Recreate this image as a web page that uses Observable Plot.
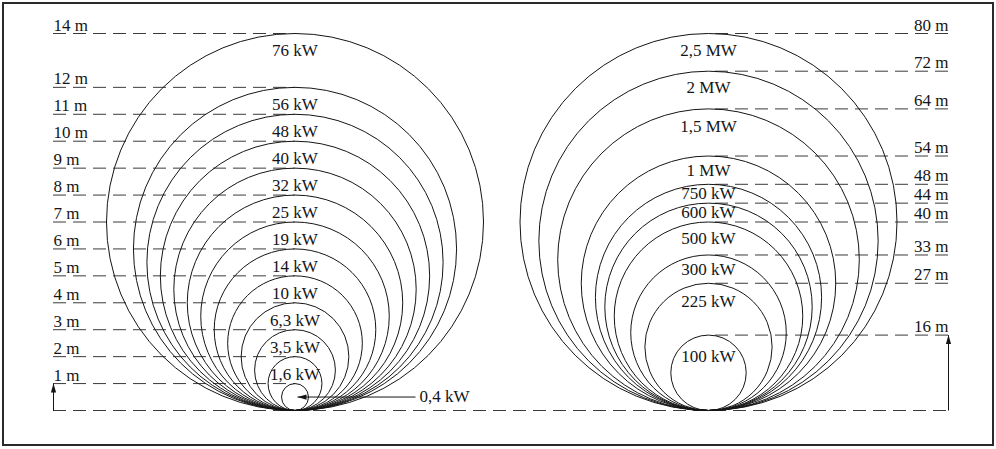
<!DOCTYPE html>
<html><head><meta charset="utf-8">
<script src="https://cdn.jsdelivr.net/npm/d3@7"></script>
<script src="https://cdn.jsdelivr.net/npm/@observablehq/plot@0.6"></script>
<style>
body{margin:0;background:#fff;}
#wrap{position:relative;width:996px;height:449px;}
#border{position:absolute;left:2px;top:2px;width:992px;height:444px;box-sizing:border-box;border:2px solid #2a2a2a;pointer-events:none;}
</style></head><body><div id="wrap"><div id="border"></div></div>
<script>
// Data: rotor diameters (m) and rated power
const leftDiam = [1, 2, 3, 4, 5, 6, 7, 8, 9, 10, 11, 12, 14];
const leftPower = ["0,4 kW", "1,6 kW", "3,5 kW", "6,3 kW", "10 kW", "14 kW", "19 kW", "25 kW", "32 kW", "40 kW", "48 kW", "56 kW", "76 kW"];
const rightDiam = [16, 27, 33, 40, 44, 48, 54, 64, 72, 80];
const rightPower = ["100 kW", "225 kW", "300 kW", "500 kW", "600 kW", "750 kW", "1 MW", "1,5 MW", "2 MW", "2,5 MW"];

// Layout (pixels) -> data units (left-group metres)
const W = 996, H = 449, BOTTOM = 410, TOP = 33;
const k = (BOTTOM - TOP) / 14;                 // px per unit
const s = 14 / 80;                            // right group scale to the same drawing size
const px = p => (p - 294.5) / k;             // x pixel -> units (left centre = 0)
const XL = 0, XR = px(708), XLAB_L = px(53), XLAB_R = px(948);

const circles = [
  ...leftDiam.map(d => ({cx: XL, d})),
  ...rightDiam.map(d => ({cx: XR, d: d * s}))
];

function insideLabels(diams, powers, cx, scale, offFn) {
  const out = [];
  diams.forEach((d, i) => {
    const prev = i === 0 ? 0 : diams[i - 1];
    const gapPx = (d - prev) * scale * k;
    out.push({x: cx, y: d * scale - offFn(gapPx) / k, t: powers[i]});
  });
  return out;
}
const leftInside = insideLabels(leftDiam, leftPower, XL, 1, () => 17.5).slice(1);
const rightInside = insideLabels(rightDiam, rightPower, XR, s, g => Math.min(g / 2, 12 + g / 8));

const arrowHead = {draw(ctx) { ctx.moveTo(0, 0); ctx.lineTo(2.6, 9); ctx.lineTo(-2.6, 9); ctx.closePath(); }};
const smallY = leftDiam[0] / 2;
const arrows = [
  {x1: XLAB_L, y1: 0, x2: XLAB_L, y2: leftDiam[0], rot: 0},
  {x1: XLAB_R, y1: 0, x2: XLAB_R, y2: rightDiam[0] * s, rot: 0},
  {x1: px(415), y1: smallY, x2: px(297), y2: smallY, rot: -90}
];

const font = "Liberation Serif";
const ink = "#151515";
const FS = 17;

const chart = Plot.plot({
  width: W, height: H,
  marginTop: TOP, marginBottom: H - BOTTOM, marginLeft: 0, marginRight: 0,
  x: {domain: [px(0), px(W)], axis: null},
  y: {domain: [0, 14], axis: null},
  r: {type: "linear", domain: [0, 7], range: [0, 7 * k]},
  style: {fontFamily: font, background: "#fff"},
  marks: [
    // dashed level lines
    Plot.ruleY(leftDiam, {y: d => d, x1: () => XLAB_L, x2: () => XL, stroke: "#3a3a3a", strokeWidth: 1, strokeDasharray: "13,7"}),
    Plot.ruleY(rightDiam, {y: d => d * s, x1: () => XLAB_R, x2: () => XR, stroke: "#3a3a3a", strokeWidth: 1, strokeDasharray: "13,7"}),
    Plot.ruleY([0], {x1: () => XLAB_L, x2: () => XLAB_R, stroke: "#3a3a3a", strokeWidth: 1, strokeDasharray: "13,7"}),
    // rotor circles
    Plot.dot(circles, {x: "cx", y: d => d.d / 2, r: d => d.d / 2, stroke: ink, strokeWidth: 1, fill: "none"}),
    // arrows
    Plot.link(arrows, {x1: "x1", y1: "y1", x2: "x2", y2: "y2", stroke: ink, strokeWidth: 1}),
    Plot.dot(arrows, {x: "x2", y: "y2", symbol: arrowHead, rotate: "rot", r: 4, fill: ink, stroke: "none"}),
    // diameter labels
    Plot.text(leftDiam, {x: () => XLAB_L, y: d => d, text: d => `${d} m`, textAnchor: "start", lineAnchor: "bottom", dy: -3, fontSize: FS, fill: ink}),
    Plot.text(rightDiam, {x: () => XLAB_R, y: d => d * s, text: d => `${d} m`, textAnchor: "end", lineAnchor: "bottom", dy: -3, fontSize: FS, fill: ink}),
    // power labels
    Plot.text([...leftInside, ...rightInside], {x: "x", y: "y", text: "t", lineAnchor: "middle", fontSize: FS, fill: ink}),
    Plot.text([leftPower[0]], {x: () => px(419), y: () => smallY, text: d => d, textAnchor: "start", lineAnchor: "middle", fontSize: FS, fill: ink})
  ]
});
document.getElementById("wrap").prepend(chart);
</script>
</body></html>
